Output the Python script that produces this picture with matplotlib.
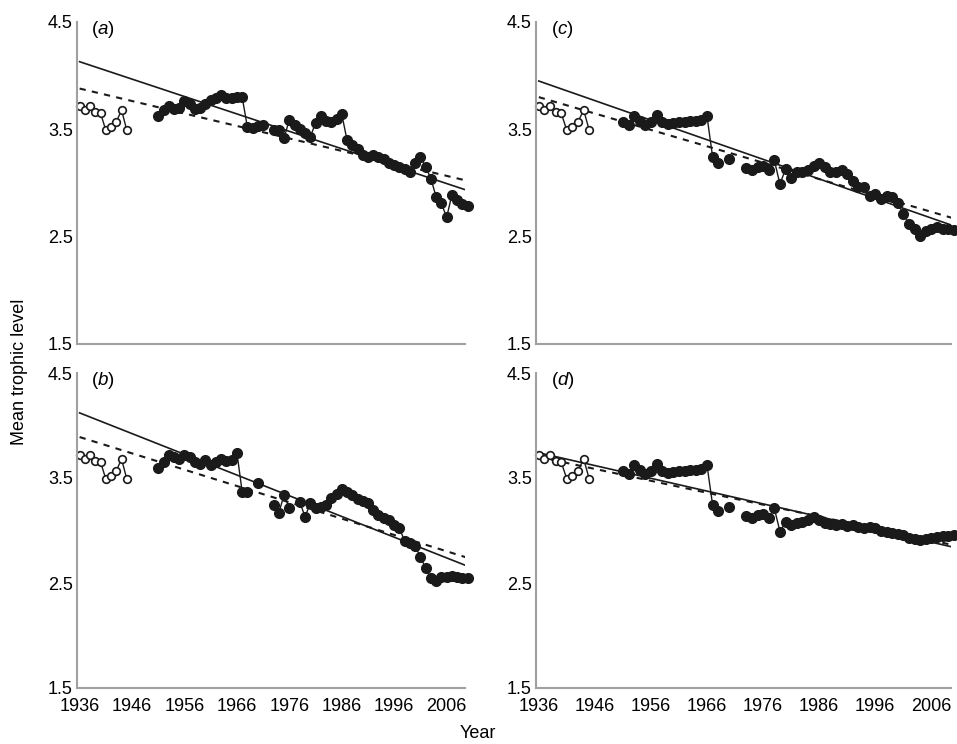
import numpy as np
import matplotlib
matplotlib.use("Agg")
import matplotlib.pyplot as plt

plt.rcParams['font.family'] = ['Liberation Sans', 'DejaVu Sans']
plt.rcParams['mathtext.fontset'] = 'custom'
plt.rcParams['mathtext.rm'] = 'Liberation Sans'
plt.rcParams['mathtext.it'] = 'Liberation Sans:italic'

#------------------------------ data ------------------------------
early_years = np.arange(1936, 1946)
early_tl = [3.72, 3.68, 3.72, 3.66, 3.65, 3.49, 3.52, 3.57, 3.68, 3.49]

years = np.arange(1951, 2011)
nan = np.nan

tl_a = [3.62, 3.68, 3.72, 3.69, 3.70, 3.76, 3.74, 3.69, 3.70, 3.74,
        3.77, 3.79, 3.82, 3.79, 3.79, 3.80, 3.80, 3.52, 3.51, 3.53,
        3.54, nan, 3.49, 3.49, 3.42, 3.59, 3.54, 3.50, 3.47, 3.43,
        3.56, 3.62, 3.58, 3.57, 3.60, 3.64, 3.40, 3.35, 3.32, 3.26,
        3.24, 3.26, 3.24, 3.22, 3.19, 3.17, 3.15, 3.13, 3.10, 3.19,
        3.24, 3.15, 3.04, 2.87, 2.81, 2.68, 2.89, 2.84, 2.80, 2.79]

tl_b = [3.60, 3.65, 3.72, 3.70, 3.68, 3.72, 3.70, 3.65, 3.63, 3.67,
        3.62, 3.65, 3.68, 3.66, 3.67, 3.74, 3.37, 3.37, nan, 3.45,
        nan, nan, 3.24, 3.17, 3.34, 3.21, nan, 3.27, 3.13, 3.26,
        3.21, 3.22, 3.24, 3.31, 3.35, 3.40, 3.37, 3.34, 3.30, 3.28,
        3.26, 3.20, 3.15, 3.12, 3.10, 3.05, 3.02, 2.90, 2.88, 2.85,
        2.75, 2.64, 2.55, 2.52, 2.56, 2.56, 2.57, 2.56, 2.55, 2.55]

tl_c = [3.57, 3.54, 3.62, 3.58, 3.54, 3.57, 3.63, 3.57, 3.55, 3.56,
        3.57, 3.57, 3.58, 3.58, 3.59, 3.62, 3.24, 3.19, nan, 3.22,
        nan, nan, 3.14, 3.12, 3.15, 3.16, 3.12, 3.21, 2.99, 3.13,
        3.05, 3.10, 3.10, 3.12, 3.16, 3.19, 3.15, 3.10, 3.10, 3.12,
        3.08, 3.02, 2.96, 2.96, 2.88, 2.90, 2.85, 2.88, 2.87, 2.81,
        2.71, 2.62, 2.57, 2.51, 2.55, 2.57, 2.59, 2.57, 2.57, 2.56]

tl_d = [3.57, 3.54, 3.62, 3.58, 3.54, 3.57, 3.63, 3.57, 3.55, 3.56,
        3.57, 3.57, 3.58, 3.58, 3.59, 3.62, 3.24, 3.19, nan, 3.22,
        nan, nan, 3.14, 3.12, 3.15, 3.16, 3.12, 3.21, 2.99, 3.08,
        3.05, 3.07, 3.08, 3.10, 3.13, 3.10, 3.07, 3.06, 3.05, 3.06,
        3.04, 3.05, 3.03, 3.02, 3.03, 3.02, 3.00, 2.99, 2.98, 2.97,
        2.96, 2.93, 2.92, 2.91, 2.92, 2.93, 2.94, 2.95, 2.95, 2.96]

# fitted trend lines, values at 1936 and 2010
fit_years = [1936, 2010]
solid_fit = {'a': [4.13, 2.93], 'b': [4.12, 2.66], 'c': [3.95, 2.60], 'd': [3.74, 2.84]}
dashed_fit = {'a': [3.88, 3.02], 'b': [3.89, 2.74], 'c': [3.80, 2.67], 'd': [3.70, 2.86]}

series = {'a': tl_a, 'b': tl_b, 'c': tl_c, 'd': tl_d}
xticks = np.arange(1936, 2007, 10)
yticks = [1.5, 2.5, 3.5, 4.5]

#------------------------------ layout ------------------------------
W, H = 957, 744
fig = plt.figure(figsize=(W / 100, H / 100), dpi=100)

# left, bottom edge, width, height in pixels from top-left
boxes = {'a': (77, 344, 388, 322), 'b': (77, 688, 388, 315),
         'c': (536, 344, 415, 322), 'd': (536, 688, 415, 315)}

grey = '#a0a0a0'
ink = '#1a1a1a'
for key, (x0, y1, w, h) in boxes.items():
    ax = fig.add_axes([x0 / W, 1 - y1 / H, w / W, h / H])
    ax.set_xlim(1935.5, 2009.5)
    ax.set_ylim(1.5, 4.5)

    ax.plot(fit_years, solid_fit[key], color=ink, lw=1.2)
    ax.plot(fit_years, dashed_fit[key], color=ink, lw=1.5, ls=(0, (3, 3)))

    ax.plot(early_years, early_tl, color=ink, lw=1.0, marker='o', ms=5.5,
            mfc='white', mec=ink, mew=1.2, clip_on=False)
    ax.plot(years, series[key], color=ink, lw=1.0, marker='o', ms=7,
            mfc=ink, mec=ink, clip_on=False)

    for s in ['top', 'right']:
        ax.spines[s].set_visible(False)
    for s in ['left', 'bottom']:
        ax.spines[s].set_color(grey)
        ax.spines[s].set_linewidth(1.5)
    ax.tick_params(length=0, labelsize=13, pad=3)
    ax.set_yticks(yticks)
    ax.set_yticklabels([f'{v:.1f}' for v in yticks])
    ax.set_xticks(xticks)
    if key in ('b', 'd'):
        ax.set_xticklabels([str(v) for v in xticks])
        ax.tick_params(axis='x', pad=7)
    else:
        ax.set_xticklabels([])
    ax.text(0.035, 1.01, r'($\it{' + key + '}$)', transform=ax.transAxes,
            fontsize=13.5, va='top', ha='left')

fig.text(20 / W, 0.5, 'Mean trophic level', rotation=90, fontsize=13,
         ha='center', va='center')
fig.text(478 / W, 1 - 734 / H, 'Year', fontsize=13, ha='center', va='center')

fig.savefig('out.png', dpi=100)
